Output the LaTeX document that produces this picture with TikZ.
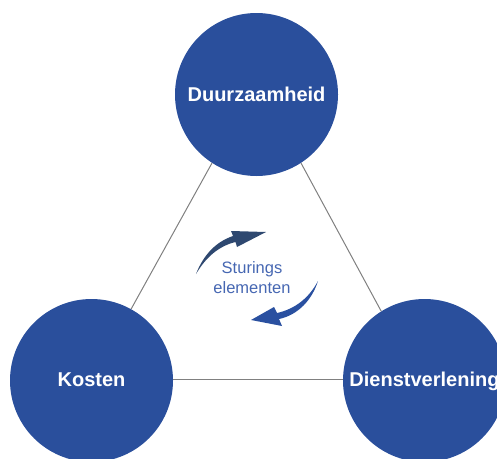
\documentclass[tikz,border=0pt]{standalone}
\usepackage{fontspec}
\setmainfont{Liberation Sans}
\definecolor{circblue}{RGB}{42,79,156}
\definecolor{arrowdark}{RGB}{46,72,112}
\definecolor{arrowblue}{RGB}{42,80,160}
\definecolor{textblue}{RGB}{70,103,178}
\definecolor{linegray}{RGB}{128,128,128}
\begin{document}
\begin{tikzpicture}[x=1pt,y=-1pt,
  bigcircle/.style={circle, fill=circblue, minimum size=163pt, inner sep=0pt,
    text=white, font=\fontsize{20}{24}\selectfont\bfseries, text depth=0pt},
  linkline/.style={draw=linegray, line width=1pt},
  steertext/.style={font=\fontsize{16.5}{20}\selectfont, text=textblue, align=center, inner sep=0pt}]
\useasboundingbox (0,0) rectangle (497,458);
\clip (0,0) rectangle (497,458);
\node[bigcircle] (top) at (256.5,94.5) {Duurzaamheid};
\node[bigcircle] (kosten) at (91.5,380.5) {\raisebox{2pt}{Kosten}};
\node[bigcircle] (dienst) at (424.5,380.5) {\raisebox{2pt}{Dienstverlening}};
\draw[linkline] (top.-123) -- (kosten.61);
\draw[linkline] (top.-57) -- (dienst.122);
\draw[linkline] (kosten.1) -- (dienst.179);
\node[steertext] (steer) at (252,278) {Sturings\\elementen};
\fill[arrowdark] (196,274) .. controls (203,256) and (215,242) .. (233,236)
  -- (231,231) -- (266,232) -- (237,247) -- (235.5,242)
  .. controls (219,246) and (206,257) .. (196,274) -- cycle;
\fill[arrowblue] (318,281) .. controls (312,300) and (298,315) .. (279,319)
  -- (282,326) -- (251,320) -- (274,307) -- (277,313)
  .. controls (295,309) and (309,298) .. (318,281) -- cycle;
\end{tikzpicture}
\end{document}
